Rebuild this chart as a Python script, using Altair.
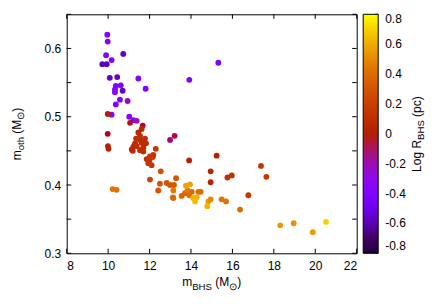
import math
import altair as alt
import pandas as pd

# ---- data ----
m_bhs = [9.96, 9.98, 9.90, 10.17, 9.72, 9.93, 10.73, 10.08, 10.44, 11.46, 11.81, 10.37, 10.61,
         10.33, 10.33, 10.70, 10.57, 10.94, 10.37, 10.17, 11.02, 11.22, 11.38, 13.92, 15.32,
         9.98, 11.06, 11.67, 9.98, 9.99, 10.02, 12.99, 13.21, 15.24, 13.91, 14.95, 14.95,
         11.62, 11.46, 11.54, 11.35, 11.54, 11.30, 11.22, 11.14, 11.38, 11.62, 11.78, 11.83,
         11.70, 11.54, 11.19, 11.70, 12.30, 12.18, 12.02, 11.86, 11.99, 12.15, 11.94, 12.10,
         15.76, 15.97, 17.38, 17.64, 16.77,
         12.54, 12.02, 12.50, 12.42, 12.83, 12.99, 13.15, 13.28, 13.18, 13.12, 13.15,
         13.55, 13.71, 13.84, 13.76, 13.95, 14.04, 13.92, 14.11, 14.28, 14.36, 14.47, 14.20,
         14.84, 14.95, 14.79, 15.48, 15.69, 16.37, 10.22, 10.41, 18.31, 18.96, 19.88, 20.52]
m_oth = [0.620, 0.610, 0.590, 0.583, 0.577, 0.577, 0.592, 0.557, 0.558, 0.556, 0.541, 0.545, 0.546,
         0.540, 0.536, 0.538, 0.525, 0.523, 0.518, 0.503, 0.500, 0.495, 0.494, 0.554, 0.579,
         0.504, 0.491, 0.487, 0.475, 0.457, 0.453, 0.466, 0.472, 0.443, 0.436, 0.420, 0.404,
         0.482, 0.477, 0.472, 0.468, 0.466, 0.461, 0.456, 0.452, 0.457, 0.462, 0.468, 0.461,
         0.455, 0.451, 0.450, 0.449, 0.453, 0.444, 0.442, 0.438, 0.436, 0.441, 0.432, 0.429,
         0.411, 0.414, 0.428, 0.412, 0.385,
         0.420, 0.408, 0.402, 0.392, 0.403, 0.400, 0.392, 0.410, 0.400, 0.382, 0.381,
         0.384, 0.388, 0.392, 0.399, 0.401, 0.390, 0.385, 0.381, 0.382, 0.390, 0.390, 0.376,
         0.376, 0.379, 0.369, 0.379, 0.376, 0.364, 0.394, 0.393, 0.341, 0.344, 0.331, 0.346]
log_r = [-0.38, -0.38, -0.38, -0.38, -0.58, -0.58, -0.55, -0.55, -0.55, -0.40, -0.40, -0.40, -0.42,
         -0.40, -0.38, -0.55, -0.38, -0.22, -0.40, -0.38, -0.40, -0.38, -0.20, -0.40, -0.40,
         0.00, -0.02, -0.05, -0.03, 0.02, 0.02, -0.12, -0.08, 0.00, 0.00, 0.02, 0.02,
         0.06, 0.06, 0.08, 0.08, 0.08, 0.08, 0.06, 0.06, 0.08, 0.08, 0.10, 0.10,
         0.08, 0.08, 0.06, 0.10, 0.15, 0.15, 0.15, 0.12, 0.14, 0.15, 0.14, 0.15,
         0.12, 0.12, 0.15, 0.15, 0.15,
         0.28, 0.22, 0.30, 0.30, 0.30, 0.32, 0.45, 0.32, 0.32, 0.45, 0.38,
         0.38, 0.38, 0.45, 0.58, 0.58, 0.40, 0.40, 0.62, 0.62, 0.40, 0.40, 0.65,
         0.55, 0.50, 0.62, 0.42, 0.42, 0.40, 0.42, 0.42, 0.55, 0.52, 0.55, 0.70]

x_ticks = [8, 10, 12, 14, 16, 18, 20, 22]
y_ticks = [0.3, 0.35, 0.4, 0.45, 0.5, 0.55, 0.6, 0.65]
cb_ticks = [-0.8, -0.6, -0.4, -0.2, 0.0, 0.2, 0.4, 0.6, 0.8]

FONT = "Liberation Sans"
W, H = 290, 239


def gnuplot_color(t):
    r = math.sqrt(t)
    g = t ** 3
    b = max(0.0, math.sin(2 * math.pi * t))
    return "#%02x%02x%02x" % tuple(int(round(min(1, max(0, c)) * 255)) for c in (r, g, b))


n_stops = 17
cdomain = [-0.8 + 1.6 * i / (n_stops - 1) for i in range(n_stops)]
crange = [gnuplot_color(i / (n_stops - 1)) for i in range(n_stops)]

df = pd.DataFrame({"m_bhs": m_bhs, "m_oth": m_oth, "logr": log_r})

xscale = alt.Scale(domain=[8, 22], nice=False)
yscale = alt.Scale(domain=[0.3, 0.65], nice=False)

points = alt.Chart(df).mark_circle(size=34, opacity=1).encode(
    x=alt.X("m_bhs:Q", scale=xscale,
            axis=alt.Axis(values=x_ticks, title=None, grid=False, domain=False, ticks=False,
                          labelFont=FONT, labelFontSize=12, labelColor="black", labelPadding=7)),
    y=alt.Y("m_oth:Q", scale=yscale,
            axis=alt.Axis(values=y_ticks, title=None, grid=False, domain=False, ticks=False,
                          format="~g", labelFont=FONT, labelFontSize=12, labelColor="black",
                          labelPadding=6)),
    color=alt.Color("logr:Q", scale=alt.Scale(domain=cdomain, range=crange),
                    legend=alt.Legend(orient="none", legendX=296.5, legendY=0, direction="vertical",
                                      gradientLength=H, gradientThickness=15, title=None,
                                      values=cb_ticks, labelFont=FONT, labelFontSize=12,
                                      labelColor="black", labelOffset=7,
                                      gradientStrokeColor="black", gradientStrokeWidth=1,
                                      labelExpr="datum.value == 0 ? '0' : replace(format(datum.value, '.1f'), '\u2212', '-')")),
)

xt = pd.DataFrame({"m_bhs": x_ticks})
yt = pd.DataFrame({"m_oth": y_ticks})
TL = 4.5
ticks_bottom = alt.Chart(xt).mark_rule(color="black").encode(
    x="m_bhs:Q", y=alt.value(H), y2=alt.value(H - TL))
ticks_top = alt.Chart(xt).mark_rule(color="black").encode(
    x="m_bhs:Q", y=alt.value(0), y2=alt.value(TL))
ticks_left = alt.Chart(yt).mark_rule(color="black").encode(
    y="m_oth:Q", x=alt.value(0), x2=alt.value(TL))
ticks_right = alt.Chart(yt).mark_rule(color="black").encode(
    y="m_oth:Q", x=alt.value(W), x2=alt.value(W - TL))

cbt = pd.DataFrame({"v": cb_ticks})
cb_tick_marks = alt.Chart(cbt).transform_calculate(
    m_oth="0.65 - 0.35 * (0.8 - datum.v) / 1.6"
).mark_rule(color="black").encode(
    y="m_oth:Q", x=alt.value(296.5 + 15), x2=alt.value(296.5 + 12))


def txt(s, x, y, size, angle=0):
    return alt.Chart(alt.Data(values=[{}])).mark_text(
        text=s, font=FONT, fontSize=size, align="left", baseline="alphabetic",
        angle=angle, color="black").encode(x=alt.value(x), y=alt.value(y))


BIG, SUB = 12, 9.6
# x title: m_BHS (M_sun)
xt0 = 115.5
xb, xs = 272.0, 276.0
x_title = [
    txt("m", xt0, xb, BIG),
    txt("BHS", xt0 + 10.0, xs, SUB),
    txt("(M", xt0 + 33.0, xb, BIG),
    txt("\u2299", xt0 + 47.0, xs, SUB),
    txt(")", xt0 + 55.0, xb, BIG),
]
# y title: m_oth (M_sun), rotated
yt0 = 146.0
yb, ys = -46.0, -42.5
y_title = [
    txt("m", yb, yt0, BIG, 270),
    txt("oth", ys, yt0 - 10.0, SUB, 270),
    txt("(M", yb, yt0 - 26.6, BIG, 270),
    txt("\u2299", ys, yt0 - 40.6, SUB, 270),
    txt(")", yb, yt0 - 48.6, BIG, 270),
]
# colorbar title: Log R_BHS (pc)
ct0 = 157.6
cb, cs = 354.0, 357.5
c_title = [
    txt("Log R", cb, ct0, BIG, 270),
    txt("BHS", cs, ct0 - 32.0, SUB, 270),
    txt("(pc)", cb, ct0 - 55.0, BIG, 270),
]

chart = alt.layer(
    points, ticks_bottom, ticks_top, ticks_left, ticks_right, cb_tick_marks,
    *x_title, *y_title, *c_title
).properties(
    width=W, height=H,
    autosize=alt.AutoSizeParams(type="none"),
    padding={"left": 58.7, "top": 6.3, "right": 70, "bottom": 40},
).configure_view(stroke="black", strokeWidth=1)

chart.save("out.html", embed_options={"renderer": "svg", "actions": False})
